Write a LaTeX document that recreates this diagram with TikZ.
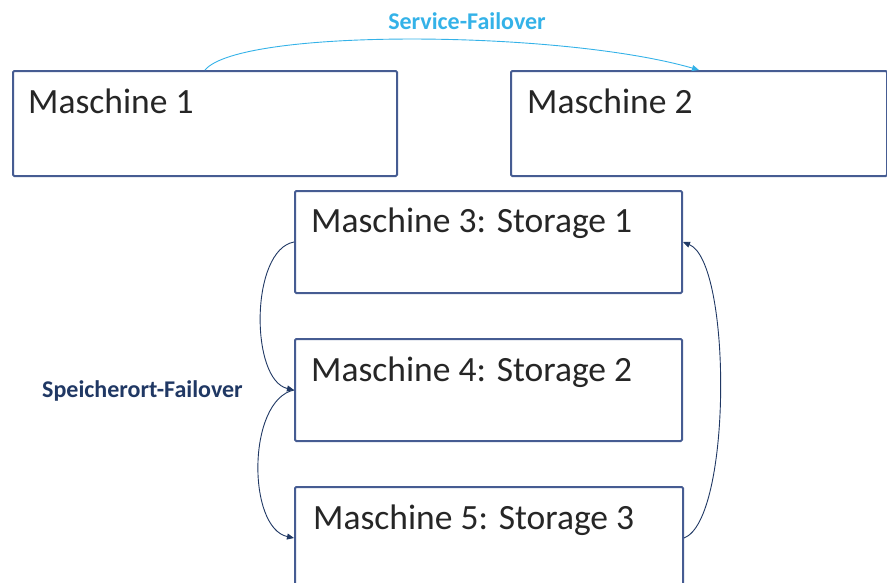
\documentclass[tikz,border=0pt]{standalone}
\usepackage{fontspec}
\setmainfont{Carlito}
\usetikzlibrary{arrows.meta}
\definecolor{boxline}{RGB}{70,92,146}
\definecolor{storeblue}{RGB}{32,56,100}
\definecolor{serviceblue}{RGB}{52,178,232}
\tikzset{
  machine/.style={draw=boxline, line width=2pt, rounded corners=1.2pt, fill=white,
    minimum height=102pt, inner sep=0pt},
  boxtext/.style={anchor=base west, inner sep=0pt, font=\fontsize{35.5}{40}\selectfont, text=black!85},
  failtext/.style={inner sep=0pt, font=\bfseries\fontsize{24}{28}\selectfont},
  storelink/.style={draw=storeblue, line width=0.9pt, -{Triangle[length=7pt,width=6pt]}},
  servicelink/.style={draw=serviceblue, line width=0.9pt, -{Triangle[length=7pt,width=6pt]}},
}
\begin{document}
\begin{tikzpicture}[x={(1pt,0pt)}, y={(0pt,-1pt)}]
\useasboundingbox (0,0) rectangle (887,582);
\clip (0,0) rectangle (887,582);

% machines
\node[machine, minimum width=384pt, minimum height=105pt] (m1) at (205,123.5) {};
\node[machine, minimum width=376pt, minimum height=105pt] (m2) at (699,123.5) {};
\node[machine, minimum width=387pt] (m3) at (488.5,242) {};
\node[machine, minimum width=387pt] (m4) at (488.5,390) {};
\node[machine, minimum width=388pt] (m5) at (489,538) {};

% machine captions
\node[boxtext] (t1) at (28,113) {Maschine 1};
\node[boxtext] (t2) at (527,113) {Maschine 2};
\node[boxtext] (t3) at (311,232) {Maschine 3: Storage 1};
\node[boxtext] (t4) at (311,381) {Maschine 4: Storage 2};
\node[boxtext] (t5) at (313,529) {Maschine 5: Storage 3};

% failover labels
\node[failtext, text=serviceblue, anchor=base] (sf) at (467,29) {Service-Failover};
\node[failtext, text=storeblue, anchor=base west] (spf) at (42,397) {Speicherort-Failover};

% service failover between the two front machines
\draw[servicelink] (m1.north) .. controls (240,28) and (560,30) .. (m2.north);

% storage failover chain
\draw[storelink] (m3.west) .. controls (250,250) and (250,380) .. (m4.west);
\draw[storelink] (m4.west) .. controls (247,400) and (247,528) .. (m5.west);
\draw[storelink] (m5.east) .. controls (732,520) and (732,262) .. (m3.east);
\end{tikzpicture}
\end{document}
